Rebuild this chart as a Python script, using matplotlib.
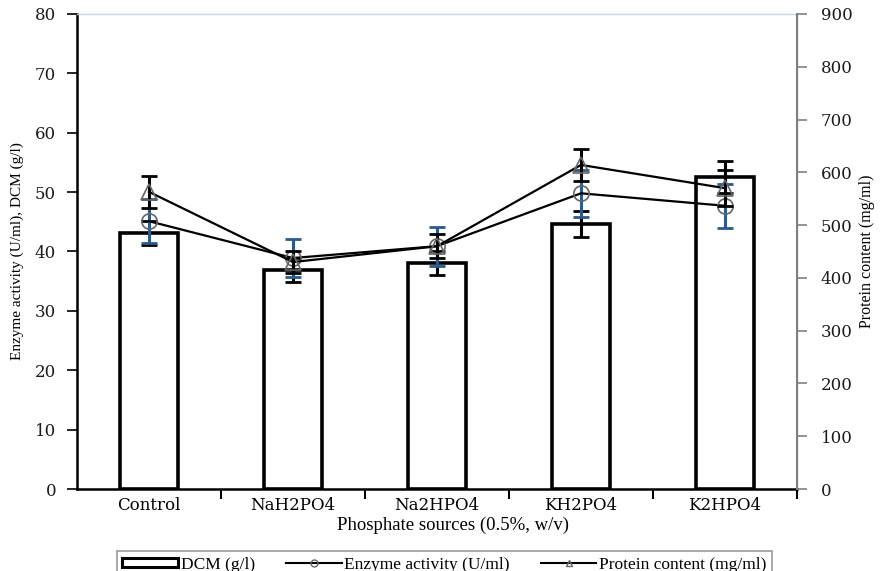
import matplotlib
matplotlib.use("Agg")
import matplotlib.pyplot as plt
import numpy as np
from matplotlib.patches import Patch
from matplotlib.lines import Line2D

categories = ["Control", "NaH2PO4", "Na2HPO4", "KH2PO4", "K2HPO4"]
dcm = [43.1, 36.9, 38.0, 44.6, 52.5]
dcm_err = [2.0, 2.0, 2.0, 2.2, 2.7]
enzyme = [45.1, 38.9, 40.9, 49.8, 47.7]
enzyme_err = [3.7, 3.2, 3.3, 4.0, 3.7]
protein = [563, 430, 460, 614, 570]
protein_err = [30, 20, 23, 30, 34]

plt.rcParams["font.family"] = ["Liberation Serif", "DejaVu Serif"]
NUM_FONT = "DejaVu Serif"

fig = plt.figure(figsize=(8.8, 5.71), dpi=100)
ax = fig.add_axes([0.0875, 0.1436, 0.8182, 0.8319])
x = np.arange(len(categories)) + 0.5

# DCM bars with their error bars
ax.bar(x, dcm, width=0.4, facecolor="white", edgecolor="black", linewidth=2.6, zorder=2)
ax.errorbar(x, dcm, yerr=dcm_err, fmt="none", ecolor="black", elinewidth=2.2,
            capsize=6, capthick=2, zorder=4)

# enzyme activity on the left axis
ax.plot(x, enzyme, color="black", lw=1.6, zorder=5)
ax.errorbar(x, enzyme, yerr=enzyme_err, fmt="none", ecolor="#2B5A8C", elinewidth=2.2,
            capsize=6, capthick=2, zorder=4)
ax.plot(x, enzyme, ls="none", marker="o", ms=11, mfc="none", mec="#666666", mew=1.2, zorder=6)

ax.set_xlim(0, 5)
ax.set_ylim(0, 80)
ax.set_yticks(np.arange(0, 81, 10))
ax.set_xticks(x)
ax.set_xticklabels(categories, fontsize=12, family=NUM_FONT)
ax.set_xticks(np.arange(1, 6), minor=True)
ax.tick_params(axis="x", which="major", length=0, pad=6)
ax.tick_params(axis="x", which="minor", length=7, width=1.5, color="black")
ax.tick_params(axis="y", length=7, width=1.2, labelsize=12, pad=8)
for lab in ax.get_yticklabels():
    lab.set_family(NUM_FONT)
    lab.set_color("#1a1a1a")

ax.spines["left"].set_linewidth(1.8)
ax.spines["bottom"].set_linewidth(1.8)
ax.spines["top"].set_color("#c8d4e6")
ax.spines["top"].set_linewidth(1.0)
ax.set_ylabel("Enzyme activity (U/ml), DCM (g/l)", fontsize=11, labelpad=8)
ax.set_xlabel("Phosphate sources (0.5%, w/v)", fontsize=13.5)
ax.xaxis.set_label_coords(0.522, -0.059)

# protein content on the right axis
ax2 = ax.twinx()
ax2.set_ylim(0, 900)
ax2.set_yticks(np.arange(0, 901, 100))
ax2.plot(x, protein, color="black", lw=1.6, zorder=5)
ax2.errorbar(x, protein, yerr=protein_err, fmt="none", ecolor="black", elinewidth=2.2,
             capsize=6, capthick=2, zorder=4)
ax2.plot(x, protein, ls="none", marker="^", ms=11, mfc="none", mec="#666666", mew=1.2, zorder=6)
ax2.spines["right"].set_color("#808080")
ax2.spines["right"].set_linewidth(1.5)
ax2.spines["top"].set_visible(False)
ax2.spines["left"].set_visible(False)
ax2.spines["bottom"].set_visible(False)
ax2.tick_params(axis="y", length=7, width=1.2, color="#808080", labelsize=12, pad=10)
for lab in ax2.get_yticklabels():
    lab.set_family(NUM_FONT)
    lab.set_color("#1a1a1a")
ax2.set_ylabel("Protein content (mg/ml)", fontsize=11.5, labelpad=5)

handles = [
    Patch(facecolor="white", edgecolor="black", linewidth=2.2, label="DCM (g/l)"),
    Line2D([], [], color="black", lw=1.5, marker="o", ms=5, mfc="none", mec="#666666",
           label="Enzyme activity (U/ml)"),
    Line2D([], [], color="black", lw=1.5, marker="^", ms=5, mfc="none", mec="#666666",
           label="Protein content (mg/ml)"),
]
leg = fig.legend(handles=handles, loc="lower center", bbox_to_anchor=(0.505, -0.012),
                 ncol=3, frameon=True, fancybox=False, fontsize=12.5, handlelength=3.2,
                 handleheight=0.5, columnspacing=1.8, borderpad=0.3, handletextpad=0.15,
                 borderaxespad=0)
leg.get_frame().set_edgecolor("#808080")
leg.get_frame().set_linewidth(1.2)

fig.savefig("out.png", dpi=100)
